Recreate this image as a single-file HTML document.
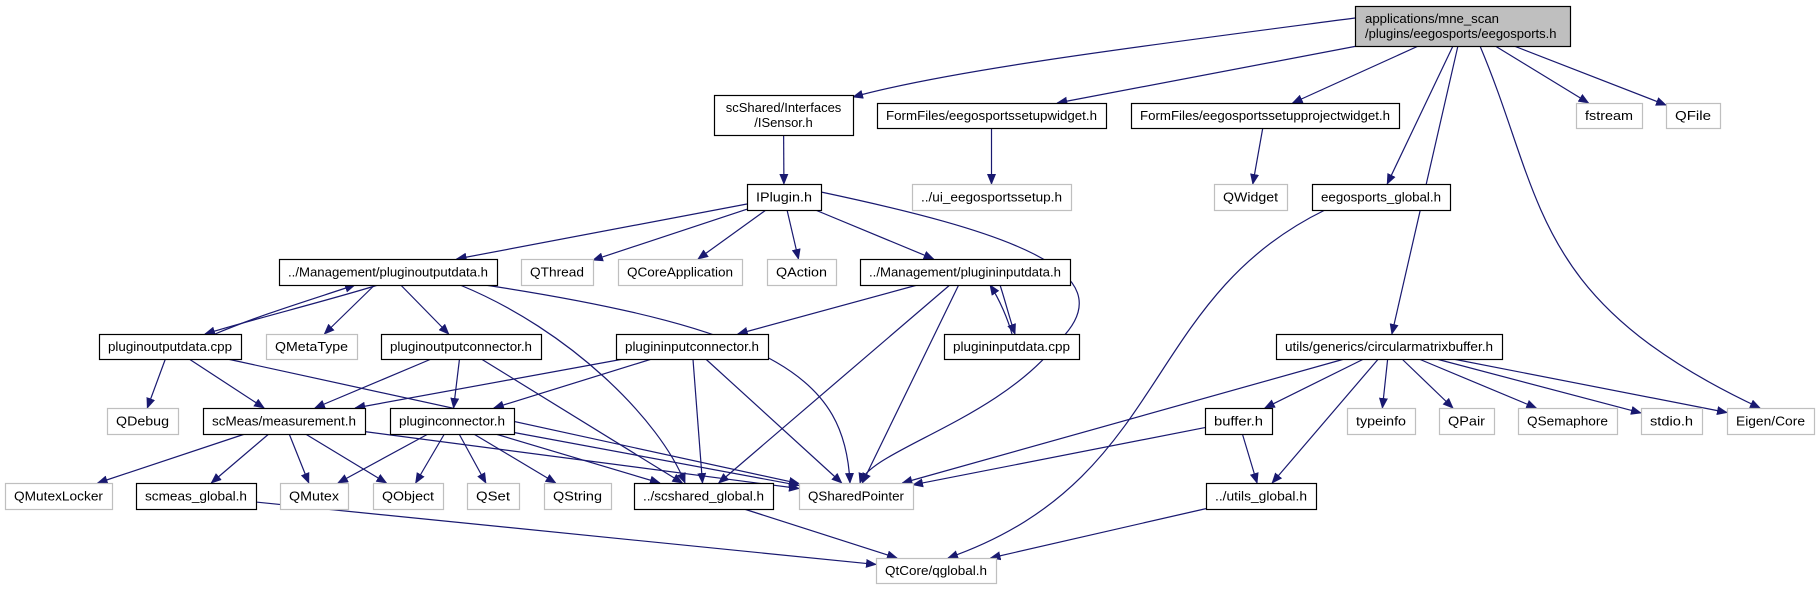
<!DOCTYPE html>
<html><head><meta charset="utf-8"><style>
html,body{margin:0;padding:0;background:#fff;width:1819px;height:589px;overflow:hidden}
svg text{font-family:"Liberation Sans",Arial,sans-serif;font-size:13px;fill:#000}
</style></head><body>
<svg id="g" width="1819" height="589" xmlns="http://www.w3.org/2000/svg">
<defs><marker id="a" markerWidth="11" markerHeight="9" refX="10" refY="4.5" orient="auto" markerUnits="userSpaceOnUse"><path d="M0,0 L11,4.5 L0,9 z" fill="#191970"/></marker></defs>
<g id="edges" fill="none" stroke="#191970" stroke-width="1.2"></g>
<g id="nodes"></g>
</svg>
<script>
var N={
main:[1355,6,1570,46,'applications/mne_scan|/plugins/eegosports/eegosports.h',2],
isensor:[714,95,853,135,'scShared/Interfaces|/ISensor.h',1],
sw:[877,103,1106,128,'FormFiles/eegosportssetupwidget.h',1],
spw:[1131,103,1399,128,'FormFiles/eegosportssetupprojectwidget.h',1],
fstream:[1576,103,1642,128,'fstream',0],
qfile:[1666,103,1720,128,'QFile',0],
iplugin:[747,184,821,210,'IPlugin.h',1],
ui:[912,184,1071,210,'../ui_eegosportssetup.h',0],
qwidget:[1214,184,1287,210,'QWidget',0],
eg:[1312,184,1450,210,'eegosports_global.h',1],
podh:[279,259,497,285,'../Management/pluginoutputdata.h',1],
qthread:[521,259,593,285,'QThread',0],
qcore:[618,259,742,285,'QCoreApplication',0],
qaction:[767,259,836,285,'QAction',0],
pidh:[860,259,1070,285,'../Management/plugininputdata.h',1],
podc:[99,334,241,359,'pluginoutputdata.cpp',1],
qmeta:[266,334,357,359,'QMetaType',0],
poc:[381,334,541,359,'pluginoutputconnector.h',1],
pic:[616,334,768,359,'plugininputconnector.h',1],
pidc:[944,334,1079,359,'plugininputdata.cpp',1],
cmb:[1276,334,1502,359,'utils/generics/circularmatrixbuffer.h',1],
qdebug:[107,408,178,434,'QDebug',0],
meas:[203,408,365,434,'scMeas/measurement.h',1],
pc:[390,408,514,434,'pluginconnector.h',1],
buffer:[1205,408,1272,434,'buffer.h',1],
typeinfo:[1347,408,1415,434,'typeinfo',0],
qpair:[1439,408,1494,434,'QPair',0],
qsem:[1518,408,1617,434,'QSemaphore',0],
stdio:[1641,408,1702,434,'stdio.h',0],
eigen:[1727,408,1814,434,'Eigen/Core',0],
qml:[5,483,112,509,'QMutexLocker',0],
smg:[136,483,256,509,'scmeas_global.h',1],
qmutex:[280,483,348,509,'QMutex',0],
qobject:[373,483,443,509,'QObject',0],
qset:[467,483,519,509,'QSet',0],
qstring:[544,483,611,509,'QString',0],
ssg:[634,483,773,509,'../scshared_global.h',1],
qsp:[799,483,913,509,'QSharedPointer',0],
ug:[1206,483,1316,509,'../utils_global.h',1],
qtcore:[876,558,996,583,'QtCore/qglobal.h',0]
};
var E=[['main','sw'],['main','spw'],['main','eg'],['main','cmb'],['main','fstream'],['main','qfile'],
['isensor','iplugin'],['sw','ui'],['spw','qwidget'],
['iplugin','podh'],['iplugin','qthread'],['iplugin','qcore'],['iplugin','qaction'],['iplugin','pidh'],
['podh','qmeta'],['podh','poc'],
['podc','qdebug'],['podc','meas'],['podc','qsp'],
['poc','meas'],['poc','pc'],['poc','ssg'],
['pidh','pic'],['pidh','ssg'],['pidh','qsp'],
['pic','meas'],['pic','pc'],['pic','ssg'],['pic','qsp'],
['meas','qml'],['meas','smg'],['meas','qmutex'],['meas','qobject'],['meas','qsp'],
['pc','qmutex'],['pc','qobject'],['pc','qset'],['pc','qstring'],['pc','ssg'],['pc','qsp'],
['smg','qtcore'],['ssg','qtcore'],
['cmb','qsp'],['cmb','buffer'],['cmb','ug'],['cmb','typeinfo'],['cmb','qpair'],['cmb','qsem'],['cmb','stdio'],['cmb','eigen'],
['buffer','qsp'],['buffer','ug'],['ug','qtcore']];
var NS='http://www.w3.org/2000/svg';
function clip(n,x,y){var b=N[n],cx=(b[0]+b[2])/2,cy=(b[1]+b[3])/2,dx=x-cx,dy=y-cy,hw=(b[2]-b[0])/2,hh=(b[3]-b[1])/2;
var t=Math.min(dx?hw/Math.abs(dx):1e9,dy?hh/Math.abs(dy):1e9);return [cx+dx*t,cy+dy*t];}
function ctr(n){var b=N[n];return [(b[0]+b[2])/2,(b[1]+b[3])/2];}
var eg=document.getElementById('edges');
function path(d){var p=document.createElementNS(NS,'path');p.setAttribute('d',d);p.setAttribute('marker-end','url(#a)');eg.appendChild(p);}
E.forEach(function(e){var s=ctr(e[0]),t=ctr(e[1]);var p1=clip(e[0],t[0],t[1]),p2=clip(e[1],s[0],s[1]);path('M'+p1[0]+','+p1[1]+'L'+p2[0]+','+p2[1]);});
path('M1355,18 C1150,45 950,70 853,97');
path('M1480,46 C1545,200 1530,300 1760,408');
path('M1325,210 C1140,300 1170,480 948,558');
path('M821,192 C1000,230 1130,270 1060,340 C1000,420 870,450 860,483');
path('M460,285 C570,330 660,420 685,483');
path('M485,285 C780,330 845,380 850,483');
path('M378,285 C330,300 250,320 205,334');
path('M215,334 C260,315 310,300 355,285');
path('M1000,285 C1005,300 1010,320 1015,334');
path('M1012,334 C1008,320 1000,300 990,285');
var ng=document.getElementById('nodes');
for(var k in N){var b=N[k];var r=document.createElementNS(NS,'rect');
r.setAttribute('x',b[0]+0.5);r.setAttribute('y',b[1]+0.5);r.setAttribute('width',b[2]-b[0]);r.setAttribute('height',b[3]-b[1]);
r.setAttribute('fill',b[5]==2?'#bfbfbf':'#fff');r.setAttribute('stroke',b[5]?'#000':'#bfbfbf');r.setAttribute('stroke-width','1.2');ng.appendChild(r);
var lines=b[4].split('|');var cx=(b[0]+b[2])/2;
lines.forEach(function(L,i){var t=document.createElementNS(NS,'text');var n=lines.length;
var y=(b[1]+b[3])/2+4.5+(i-(n-1)/2)*15;
if(k=='main'){t.setAttribute('x',b[0]+10);}else{t.setAttribute('x',cx);t.setAttribute('text-anchor','middle');}
t.setAttribute('y',y);t.textContent=L;
if(n==1){var w=(b[2]-b[0])-18;t.setAttribute('textLength',w);t.setAttribute('lengthAdjust','spacingAndGlyphs');}
else if(k=='main'&&i==0){t.setAttribute('textLength',134);t.setAttribute('lengthAdjust','spacingAndGlyphs');}
ng.appendChild(t);});}
</script>
</body></html>
